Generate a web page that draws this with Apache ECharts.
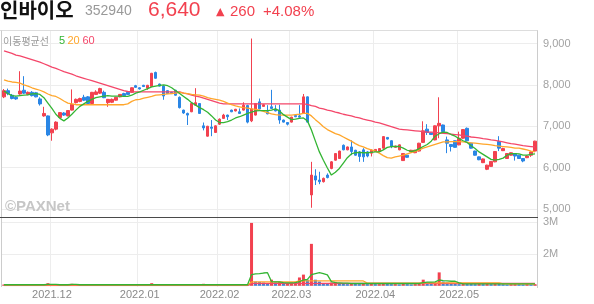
<!DOCTYPE html>
<html><head><meta charset="utf-8">
<script src="https://cdn.jsdelivr.net/npm/echarts@6/dist/echarts.min.js"></script>
<style>html,body{margin:0;padding:0;background:#fff}#c{width:594px;height:304px}</style>
</head><body><div id="c"></div>
<script>
// ---- trading days (categories) ----
const nov21 = [15,16,17,18,19,22,23,24,25,26,29,30];
const dec21 = [1,2,3,6,7,8,9,10,13,14,15,16,17,20,21,22,23,24,27,28,29,30];
const jan22 = [3,4,5,6,7,10,11,12,13,14,17,18,19,20,21,24,25,26,27,28];
const feb22 = [3,4,7,8,9,10,11,14,15,16,17,18,21,22,23,24,25,28];
const mar22 = [2,3,4,7,8,10,11,14,15,16,17,18,21,22,23,24,25,28,29,30,31];
const apr22 = [1,4,5,6,7,8,11,12,13,14,15,18,19,20,21,22,25,26,27,28,29];
const may22 = [2,3,4,6,9,10,11,12,13,16,17,18,19,20,23,24,25,26,27,30];

// ---- prices ----
const opens = [
7710,7860,7750,7700,7780,7870,7770,7820,7810,7660,
7250,7250,6840,6930,7210,7320,7250,7390,7570,7600,
7700,7710,7550,7770,7800,7820,7570,7580,7630,7710,
7790,7820,7820,7980,7930,7990,7920,7960,8300,8020,
7970,7860,7820,7870,7700,7390,7310,7350,7510,7550,
7010,6760,6980,6850,7050,7190,7270,7390,7370,7350,
7390,7500,7130,7270,7590,7480,7350,7470,7410,7390,
7150,7090,7100,7260,7250,7310,7710,5340,5800,5700,
5660,5820,5980,6180,6220,6540,6430,6500,6420,6380,
6430,6380,6350,6390,6390,6470,6730,6650,6490,6430,
6170,6300,6380,6360,6400,6610,6930,6840,6670,7010,
7030,6670,6560,6650,6550,6710,6950,6590,6400,6260,
6120,5960,6030,6140,6630,6410,6220,6300,6340,6300,
6220,6240,6300,6400];
const closes = [
7860,7790,7670,7660,7850,7800,7820,7740,7710,7540,
7310,6790,6930,7100,7330,7270,7380,7530,7650,7670,
7630,7550,7820,7830,7910,7690,7650,7650,7700,7770,
7740,7770,7930,7940,7900,7960,7990,8280,8160,7970,
7730,7790,7790,7750,7450,7320,7270,7550,7570,7310,
6960,7000,6950,7010,7170,7270,7230,7350,7410,7310,
7510,7100,7420,7550,7420,7520,7300,7430,7370,7150,
7100,7050,7220,7230,7220,7710,7100,5820,5700,5660,
5740,5760,6140,6340,6400,6430,6500,6390,6300,6270,
6260,6280,6420,6440,6460,6750,6690,6510,6520,6550,
6340,6250,6420,6420,6590,6890,6850,6800,7010,7070,
6870,6590,6510,6490,6710,6920,6650,6470,6300,6190,
6210,6060,6150,6390,6470,6460,6340,6360,6280,6220,
6160,6280,6380,6640];
const lows = [
7680,7750,7650,7640,7760,7780,7750,7720,7700,7500,
7230,6760,6650,6900,7200,7250,7240,7380,7550,7580,
7610,7520,7540,7760,7780,7680,7470,7560,7620,7700,
7730,7760,7810,7930,7890,7950,7880,7950,8150,7960,
7640,7780,7780,7740,7430,7300,7030,7340,7500,7300,
6900,6750,6760,6840,7030,7180,7150,7340,7360,7300,
7380,7070,7100,7260,7410,7470,7290,7420,7360,7060,
7090,7020,7090,7220,7210,7300,7090,5030,5580,5600,
5640,5740,5960,6170,6210,6420,6420,6300,6290,6140,
6140,6250,6270,6380,6380,6460,6680,6470,6480,6420,
6160,6240,6370,6350,6390,6600,6790,6790,6660,6710,
6860,6350,6390,6480,6540,6700,6640,6460,6290,6180,
6110,5940,6020,6130,6400,6400,6210,6290,6170,6210,
6130,6230,6260,6390];
const highs = [
7900,7910,7780,7720,8330,8210,7840,7850,7830,7700,
7470,7260,6950,7120,7340,7340,7390,7890,7670,7690,
7760,7730,7830,7870,7930,7860,7660,7670,7710,7780,
7810,7830,7940,8000,7940,8000,8000,8290,8320,8030,
7990,7870,7830,7880,7720,7400,7330,7560,7920,7560,
7090,7010,7150,7020,7190,7300,7280,7400,7420,7430,
7580,7520,9120,7560,7670,7530,7510,7880,7510,7520,
7160,7100,7230,7270,7510,7780,7720,6140,5960,5900,
5760,5860,6160,6350,6410,6560,6510,6660,6430,6400,
6470,6400,6440,6450,6470,6760,6740,6660,6530,6560,
6350,6310,6430,6430,6600,7120,7050,6850,7020,7700,
7040,6750,6570,6660,6870,6930,6970,6600,6410,6270,
6220,6070,6160,6400,6760,6480,6350,6370,6350,6310,
6230,6300,6390,6650];

// ---- price moving averages ----
const ma5 = [
7850,7790,7740,7730,7740,7750,7760,7780,7790,7770,
7690,7560,7430,7290,7190,7130,7200,7290,7390,7480,
7540,7600,7650,7690,7710,7730,7740,7730,7730,7730,
7720,7720,7750,7800,7830,7870,7910,7950,7970,7990,
8000,7980,7930,7860,7790,7720,7650,7570,7510,7450,
7400,7340,7250,7150,7090,7090,7110,7150,7200,7230,
7270,7310,7340,7370,7380,7380,7380,7390,7420,7370,
7280,7220,7160,7170,7190,7200,7130,6910,6640,6380,
6180,5990,5820,5890,5980,6110,6240,6330,6360,6370,
6360,6360,6370,6380,6380,6430,6490,6510,6510,6510,
6470,6420,6390,6410,6460,6510,6560,6640,6760,6820,
6860,6850,6800,6760,6700,6650,6610,6530,6460,6380,
6320,6260,6200,6180,6200,6230,6300,6340,6340,6330,
6300,6300,6320,6330];
const ma20 = [
8120,8090,8070,8060,8040,8000,7970,7930,7900,7870,
7830,7780,7740,7720,7670,7610,7560,7540,7520,7520,
7520,7520,7520,7520,7520,7520,7520,7520,7520,7520,
7520,7540,7600,7640,7650,7680,7700,7720,7750,7760,
7770,7780,7790,7800,7820,7800,7790,7770,7760,7750,
7730,7690,7670,7650,7630,7600,7560,7520,7490,7470,
7450,7440,7420,7410,7390,7360,7330,7300,7280,7270,
7270,7270,7270,7280,7290,7310,7310,7250,7160,7080,
6990,6920,6870,6820,6790,6740,6690,6640,6580,6530,
6500,6460,6430,6400,6350,6290,6240,6230,6260,6280,
6300,6330,6360,6390,6430,6470,6500,6530,6560,6590,
6620,6620,6630,6630,6630,6620,6610,6600,6590,6580,
6570,6560,6550,6530,6520,6510,6500,6490,6470,6470,
6450,6430,6400,6380];
const ma60 = [
8820,8790,8760,8720,8700,8670,8640,8610,8580,8550,
8510,8470,8430,8400,8360,8320,8290,8260,8220,8190,
8160,8130,8100,8070,8040,8010,7980,7950,7920,7890,
7860,7840,7830,7830,7830,7830,7830,7830,7830,7830,
7830,7830,7830,7830,7830,7800,7780,7750,7730,7710,
7680,7650,7620,7590,7560,7540,7540,7540,7540,7540,
7540,7540,7540,7540,7540,7540,7540,7540,7540,7540,
7540,7540,7540,7540,7540,7540,7530,7500,7480,7440,
7420,7390,7370,7340,7320,7290,7270,7250,7220,7200,
7170,7150,7130,7100,7080,7050,7020,6990,6960,6930,
6920,6910,6900,6890,6880,6870,6860,6860,6850,6840,
6830,6820,6810,6800,6790,6770,6760,6740,6730,6720,
6700,6690,6670,6660,6640,6620,6600,6580,6570,6550,
6530,6520,6510,6500];

// ---- volume (thousand shares) and its averages ----
const volume = [
1040,1030,1020,1020,1050,1030,1020,1020,1020,1030,
1040,1080,1040,1030,1030,1020,1030,1060,1030,1020,
1020,1030,1030,1020,1020,1030,1020,1020,1020,1020,
1020,1020,1030,1020,1020,1020,1030,1080,1040,1020,
1030,1020,1020,1020,1030,1030,1030,1030,1030,1030,
1060,1030,1030,1020,1030,1030,1020,1020,1020,1030,
1030,1040,2980,1130,1120,1100,1080,1190,1100,1120,
1060,1080,1100,1120,1260,1350,1190,2320,1190,1130,
1080,1060,1100,1120,1080,1060,1050,1080,1060,1050,
1060,1050,1060,1050,1050,1080,1060,1050,1050,1040,
1060,1050,1040,1050,1060,1190,1080,1060,1080,1420,
1130,1100,1080,1060,1050,1080,1070,1060,1050,1060,
1050,1060,1050,1070,1060,1050,1040,1050,1060,1050,
1040,1050,1040,1050];
const volMa5 = [
1030,1030,1030,1030,1030,1030,1030,1030,1030,1030,
1030,1040,1040,1040,1030,1030,1030,1040,1040,1030,
1030,1030,1030,1030,1030,1030,1030,1030,1030,1030,
1030,1030,1030,1030,1030,1030,1030,1030,1030,1030,
1030,1030,1030,1030,1030,1030,1030,1030,1030,1030,
1030,1030,1030,1030,1030,1030,1030,1030,1030,1030,
1030,1030,1350,1370,1380,1400,1410,1130,1120,1120,
1100,1090,1090,1100,1130,1180,1200,1350,1380,1410,
1380,1340,1130,1100,1090,1080,1080,1070,1070,1070,
1070,1070,1070,1070,1070,1070,1070,1070,1070,1070,
1070,1070,1070,1070,1070,1100,1110,1110,1120,1180,
1160,1150,1140,1140,1090,1060,1060,1060,1060,1060,
1060,1060,1060,1060,1060,1060,1060,1060,1060,1060,
1060,1060,1060,1060];
const volMa20 = [
1025,1025,1025,1025,1025,1025,1025,1025,1025,1025,
1025,1025,1025,1025,1025,1025,1025,1025,1025,1025,
1025,1025,1025,1025,1025,1025,1025,1025,1025,1025,
1025,1025,1025,1025,1025,1025,1025,1025,1025,1025,
1025,1025,1025,1025,1025,1025,1025,1025,1025,1025,
1025,1025,1025,1025,1025,1025,1025,1025,1025,1025,
1025,1025,1120,1120,1120,1120,1120,1120,1120,1120,
1120,1120,1120,1120,1150,1150,1150,1150,1150,1150,
1150,1150,1150,1150,1150,1150,1150,1150,1150,1150,
1150,1080,1080,1080,1080,1080,1080,1080,1080,1080,
1080,1080,1080,1080,1080,1090,1090,1090,1090,1090,
1090,1090,1090,1090,1090,1090,1090,1090,1090,1090,
1090,1090,1090,1090,1090,1060,1060,1060,1060,1060,
1060,1060,1060,1060];
const volMa60 = [
1005,1005,1005,1005,1005,1005,1005,1005,1005,1005,
1005,1005,1005,1005,1005,1005,1005,1005,1005,1005,
1005,1005,1005,1005,1005,1005,1005,1005,1005,1005,
1005,1005,1005,1005,1005,1005,1005,1005,1005,1005,
1005,1005,1005,1005,1005,1005,1005,1005,1005,1005,
1005,1005,1005,1005,1005,1005,1005,1005,1005,1005,
1005,1005,1070,1070,1070,1070,1070,1070,1070,1070,
1070,1070,1070,1070,1070,1070,1070,1070,1070,1070,
1070,1070,1070,1070,1070,1070,1070,1070,1070,1070,
1070,1070,1070,1070,1070,1070,1070,1070,1070,1070,
1070,1070,1070,1070,1070,1070,1070,1070,1070,1070,
1070,1070,1070,1070,1070,1070,1070,1070,1070,1070,
1070,1070,1070,1070,1070,1070,1070,1070,1070,1070,
1070,1070,1070,1070];

// ---- tick labels ----
const priceTicks = [5000, 9000, 1000];   // min, max, step
const volTicks = [1000, 3000, 1000];

// ---- header texts ----
const stockName = '인바이오', stockCode = '352940', lastPrice = '6,640', change = '260', changePct = '+4.08%';

// ---- build ----
const pad = n => (n < 10 ? '0' : '') + n;
const dates = [].concat(
  nov21.map(d => '2021.11.' + pad(d)), dec21.map(d => '2021.12.' + pad(d)),
  jan22.map(d => '2022.01.' + pad(d)), feb22.map(d => '2022.02.' + pad(d)),
  mar22.map(d => '2022.03.' + pad(d)), apr22.map(d => '2022.04.' + pad(d)),
  may22.map(d => '2022.05.' + pad(d)));
const monthStart = i => i > 0 && dates[i].slice(0, 7) !== dates[i - 1].slice(0, 7);
const candles = opens.map((o, i) => [o, closes[i], lows[i], highs[i]]);

const UP = '#f2414f', DOWN = '#2a86e5';
const C5 = '#33b533', C20 = '#ffa62b', C60 = '#f4476a';
const F = '"Liberation Sans", Arial, sans-serif';
const K = '"Noto Sans CJK KR", sans-serif';
const GRID = '#ededed';

const volData = volume.map((v, i) => ({
  value: v,
  itemStyle: { color: (i > 0 && v < volume[i - 1]) ? DOWN : UP }
}));

const chart = echarts.init(document.getElementById('c'), null, { renderer: 'canvas' });
chart.setOption({
  animation: false,
  backgroundColor: '#fff',
  grid: [
    { left: 2, right: 57, top: 43.5, height: 165.5, outerBoundsMode: 'none' },
    { left: 2, right: 57, top: 222.3, height: 63.4, outerBoundsMode: 'none' },
    { left: 2, right: 57, top: 31, height: 256, outerBoundsMode: 'none' }
  ],
  xAxis: [
    { type: 'category', gridIndex: 0, data: dates, boundaryGap: true,
      axisLine: { show: false }, axisTick: { show: false }, axisLabel: { show: false }, splitLine: { show: false } },
    { type: 'category', gridIndex: 1, data: dates, boundaryGap: true,
      axisLine: { show: true, lineStyle: { color: '#cfcfcf' } }, axisTick: { show: false },
      axisLabel: { interval: (i) => monthStart(i), formatter: v => v.slice(0, 7),
        color: '#8a8a8a', fontSize: 11, fontFamily: F, margin: 4 },
      splitLine: { show: false } },
    { type: 'category', gridIndex: 2, data: dates, boundaryGap: true,
      axisLine: { show: false }, axisTick: { show: false }, axisLabel: { show: false },
      splitLine: { show: true, interval: (i) => monthStart(i), lineStyle: { color: GRID, width: 1 } } }
  ],
  yAxis: [
    { type: 'value', gridIndex: 0, position: 'right', min: priceTicks[0], max: priceTicks[1], interval: priceTicks[2],
      axisLine: { show: false }, axisTick: { show: false },
      axisLabel: { color: '#a2a2a2', fontSize: 11, fontFamily: F, margin: 6, padding: [5, 0, 0, 0],
        formatter: v => v.toLocaleString('en-US') },
      splitLine: { show: true, lineStyle: { color: GRID } } },
    { type: 'value', gridIndex: 1, position: 'right', min: volTicks[0], max: volTicks[1], interval: volTicks[2],
      axisLine: { show: false }, axisTick: { show: false },
      axisLabel: { color: '#a2a2a2', fontSize: 11, fontFamily: F, margin: 6, padding: [3, 0, 0, 0], showMinLabel: false,
        formatter: v => (v / 1000) + 'M' },
      splitLine: { show: true, lineStyle: { color: GRID } } },
    { type: 'value', gridIndex: 2, show: false }
  ],
  series: [
    { type: 'candlestick', xAxisIndex: 0, yAxisIndex: 0, data: candles, barWidth: 3, clip: false, z: 2,
      itemStyle: { color: UP, color0: DOWN, borderColor: UP, borderColor0: DOWN, borderWidth: 1 } },
    { type: 'line', xAxisIndex: 0, yAxisIndex: 0, data: ma60, symbol: 'none', clip: false, z: 3,
      lineStyle: { color: C60, width: 1.3 } },
    { type: 'line', xAxisIndex: 0, yAxisIndex: 0, data: ma20, symbol: 'none', clip: false, z: 3,
      lineStyle: { color: C20, width: 1.3 } },
    { type: 'line', xAxisIndex: 0, yAxisIndex: 0, data: ma5, symbol: 'none', clip: false, z: 3,
      lineStyle: { color: C5, width: 1.3 } },
    { type: 'bar', xAxisIndex: 1, yAxisIndex: 1, data: volData, barWidth: 3, clip: true, z: 2 },
    { type: 'line', xAxisIndex: 1, yAxisIndex: 1, data: volMa60, symbol: 'none', z: 3, lineStyle: { color: C60, width: 1.3 } },
    { type: 'line', xAxisIndex: 1, yAxisIndex: 1, data: volMa20, symbol: 'none', z: 3, lineStyle: { color: C20, width: 1.3 } },
    { type: 'line', xAxisIndex: 1, yAxisIndex: 1, data: volMa5, symbol: 'none', z: 3, lineStyle: { color: C5, width: 1.3 } }
  ],
  graphic: [
    { type: 'line', z: 50, shape: { x1: 0, y1: 30.5, x2: 538, y2: 30.5 }, style: { stroke: '#dddddd', lineWidth: 1 } },
    { type: 'line', z: 50, shape: { x1: 1.5, y1: 30.5, x2: 1.5, y2: 287 }, style: { stroke: '#cccccc', lineWidth: 1 } },
    { type: 'line', z: 50, shape: { x1: 537.5, y1: 30.5, x2: 537.5, y2: 288 }, style: { stroke: '#cccccc', lineWidth: 1 } },
    { type: 'line', z: 50, shape: { x1: 0, y1: 217.5, x2: 538, y2: 217.5 }, style: { stroke: '#4a4a4a', lineWidth: 1.2 } },
    { type: 'text', z: 60, x: 0, y: 10, style: { text: stockName, font: 'bold 20px ' + K, fill: '#111', verticalAlign: 'middle' } },
    { type: 'text', z: 60, x: 85, y: 11.5, style: { text: stockCode, font: '14px ' + F, fill: '#999', verticalAlign: 'middle' } },
    { type: 'text', z: 60, x: 148, y: 10, style: { text: lastPrice, font: '21px ' + F, fill: UP, verticalAlign: 'middle' } },
    { type: 'text', z: 60, x: 216, y: 12, style: { text: '▲', font: '11px "DejaVu Sans"', fill: UP, verticalAlign: 'middle' } },
    { type: 'text', z: 60, x: 230, y: 12, style: { text: change, font: '15px ' + F, fill: UP, verticalAlign: 'middle' } },
    { type: 'text', z: 60, x: 263, y: 12, style: { text: changePct, font: '15px ' + F, fill: UP, verticalAlign: 'middle' } },
    { type: 'text', z: 60, x: 3, y: 41, style: { text: '이동평균선', font: '10px ' + K, fill: '#9a9a9a', verticalAlign: 'middle' } },
    { type: 'text', z: 60, x: 59, y: 41, style: { text: '5', font: '11px ' + F, fill: C5, verticalAlign: 'middle' } },
    { type: 'text', z: 60, x: 67.5, y: 41, style: { text: '20', font: '11px ' + F, fill: C20, verticalAlign: 'middle' } },
    { type: 'text', z: 60, x: 82.5, y: 41, style: { text: '60', font: '11px ' + F, fill: C60, verticalAlign: 'middle' } },
    { type: 'text', z: 60, x: 5, y: 207, style: { text: '©PAXNet', font: 'bold 15px ' + F, fill: '#c6c6c6', verticalAlign: 'middle' } }
  ]
});
</script></body></html>
